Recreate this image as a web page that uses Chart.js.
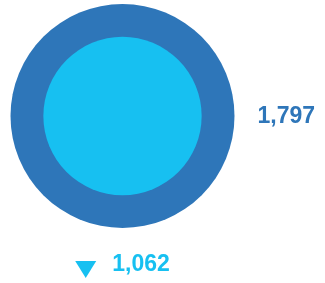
<!DOCTYPE html>
<html>
<head>
<meta charset="utf-8">
<script src="https://cdn.jsdelivr.net/npm/chart.js@4"></script>
<style>
  html, body { margin: 0; padding: 0; background: #fff; }
  #wrap { width: 325px; height: 283px; }
</style>
</head>
<body>
<div id="wrap"><canvas id="circles"></canvas></div>
<script>
// Data
const categories = ['Total', 'Subset'];
const values = [1797, 1062];
const valueLabels = ['1,797', '1,062'];
const colors = ['#2e76b9', '#17c0f1'];

document.addEventListener('DOMContentLoaded', () => {
    const maxValue = Math.max(...values);
    const maxRadius = 112;
    // radius grows with value (damped area scale)
    const radiusFor = v => maxRadius * Math.pow(v / maxValue, 0.66);

    const labelPlugin = {
        id: 'circleLabels',
        afterDatasetsDraw(chart) {
            const ctx = chart.ctx;
            const outer = chart.getDatasetMeta(0).data[0];
            const outerR = outer.options.radius;
            ctx.save();
            ctx.font = 'bold 23px "Liberation Sans", Arial, sans-serif';
            ctx.textBaseline = 'middle';

            // outer value, right of the big circle
            ctx.fillStyle = colors[0];
            ctx.textAlign = 'left';
            ctx.fillText(valueLabels[0], outer.x + outerR + 23, outer.y + 1);

            // inner value with down arrow, under the circle
            const y = outer.y + outerR + 37;
            const textW = ctx.measureText(valueLabels[1]).width;
            const triW = 21, gap = 16;
            const startX = outer.x - (triW + gap + textW) / 2;
            ctx.fillStyle = colors[1];
            ctx.beginPath();
            ctx.moveTo(startX, y - 4);
            ctx.lineTo(startX + triW, y - 4);
            ctx.lineTo(startX + triW / 2, y + 13);
            ctx.closePath();
            ctx.fill();
            ctx.fillText(valueLabels[1], startX + triW + gap, y);
            ctx.restore();
        }
    };

    new Chart(document.getElementById('circles').getContext('2d'), {
        type: 'bubble',
        data: {
            datasets: categories.map((c, i) => ({
                label: c,
                data: [{ x: 0, y: 0, r: radiusFor(values[i]) }],
                backgroundColor: colors[i],
                borderWidth: 0,
                hoverBorderWidth: 0,
                order: i === 0 ? 1 : 0,   // big circle underneath
                clip: false
            }))
        },
        options: {
            responsive: true,
            maintainAspectRatio: false,
            animation: false,
            layout: {
                autoPadding: false,
                padding: { left: 0, top: 0, right: 80, bottom: 51 }
            },
            scales: {
                x: { display: false, min: -1, max: 1 },
                y: { display: false, min: -1, max: 1 }
            },
            plugins: {
                legend: { display: false },
                tooltip: { enabled: false }
            }
        },
        plugins: [labelPlugin]
    });
});
</script>
</body>
</html>
